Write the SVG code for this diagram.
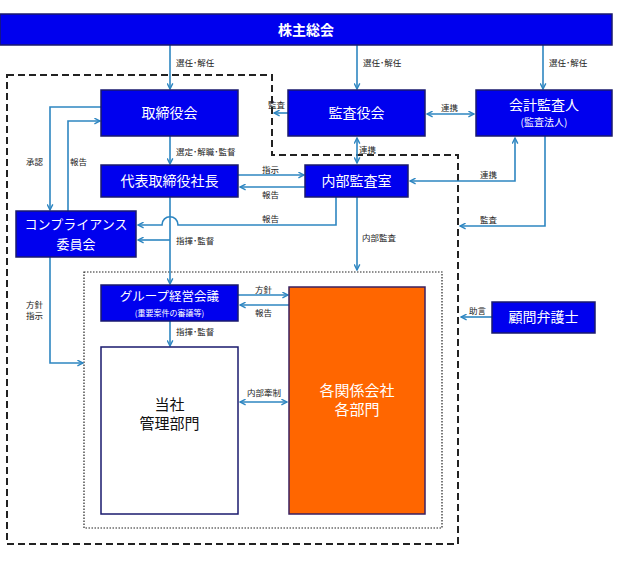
<svg xmlns="http://www.w3.org/2000/svg" width="619" height="561" viewBox="0 0 619 561">
<defs>
<style>
.bx{fill:#0000EE;stroke:#1a1a6e;stroke-width:1.5}
.bt{fill:#fff;font-family:"Noto Sans CJK JP","Noto Sans",sans-serif;font-size:14px;text-anchor:middle}
.st{fill:#fff;font-family:"Noto Sans CJK JP","Noto Sans",sans-serif;font-size:10px;text-anchor:middle}
.lb{fill:#222;font-family:"Noto Sans CJK JP","Noto Sans",sans-serif;font-size:8.5px}
.c{fill:none;stroke:#2E86C1;stroke-width:1.6}
.ce{marker-end:url(#ah)}
.cb{marker-start:url(#ah);marker-end:url(#ah)}
</style>
<marker id="ah" viewBox="0 0 10 10" refX="9" refY="5" markerWidth="7" markerHeight="7" orient="auto-start-reverse" markerUnits="userSpaceOnUse">
<path d="M1,1 L9,5 L1,9" fill="none" stroke="#2E86C1" stroke-width="2"/>
</marker>
</defs>
<rect width="619" height="561" fill="#fff"/>

<!-- boundary boxes -->
<path d="M7,75 H272 V155 H458 V544 H7 Z" fill="none" stroke="#222" stroke-width="2" stroke-dasharray="7,4"/>
<rect x="84" y="272" width="358" height="256" fill="none" stroke="#222" stroke-width="1.2" stroke-dasharray="1.5,1.5"/>

<g id="connectors">
<path class="c ce" d="M170,45 V89"/>
<path class="c ce" d="M357,45 V89"/>
<path class="c ce" d="M543,45 V89"/>
<path class="c cb" d="M427,114 H474"/>
<path class="c ce" d="M288,113 H274"/>
<path class="c cb" d="M357,138 V163"/>
<path class="c ce" d="M170,136 V164"/>
<path class="c ce" d="M238,175 H304"/>
<path class="c ce" d="M305,187 H240"/>
<path class="c cb" d="M410,181 H515 V138"/>
<path class="c ce" d="M545,136 V226 H460"/>
<path class="c ce" d="M336,197 V225 H178 C178,214 162,214 162,225 H138"/>
<path class="c ce" d="M170,197 V284"/>
<path class="c ce" d="M170,240 H138"/>
<path class="c ce" d="M101,107 H50 V210"/>
<path class="c ce" d="M68,211 V121 H100"/>
<path class="c ce" d="M50,257 V363 H83"/>
<path class="c ce" d="M357,197 V270"/>
<path class="c ce" d="M238,295 H288"/>
<path class="c ce" d="M289,305 H240"/>
<path class="c ce" d="M170,321 V346"/>
<path class="c cb" d="M240,402 H287"/>
<path class="c ce" d="M492,317 H461"/>
</g>

<g id="labels">
<text class="lb" x="176" y="66">選任･解任</text>
<text class="lb" x="363" y="66">選任･解任</text>
<text class="lb" x="549" y="66">選任･解任</text>
<text class="lb" x="441" y="111">連携</text>
<text class="lb" x="268" y="108">監査</text>
<text class="lb" x="359" y="153">連携</text>
<text class="lb" x="176" y="155">選定･解職･監督</text>
<text class="lb" x="262" y="173">指示</text>
<text class="lb" x="262" y="198">報告</text>
<text class="lb" x="480" y="178">連携</text>
<text class="lb" x="480" y="223">監査</text>
<text class="lb" x="262" y="222">報告</text>
<text class="lb" x="176" y="244">指揮･監督</text>
<text class="lb" x="26" y="165">承認</text>
<text class="lb" x="70" y="165">報告</text>
<text class="lb" x="26" y="308">方針</text>
<text class="lb" x="26" y="319">指示</text>
<text class="lb" x="362" y="241">内部監査</text>
<text class="lb" x="255" y="293">方針</text>
<text class="lb" x="255" y="316">報告</text>
<text class="lb" x="176" y="335">指揮･監督</text>
<text class="lb" x="247" y="396">内部牽制</text>
<text class="lb" x="469" y="314">助言</text>
</g>

<g id="n-kabunushi">
<rect x="0" y="14" width="612" height="31" class="bx"/>
<text class="bt" x="306" y="35" font-size="13" font-weight="bold">株主総会</text>
</g>
<g id="n-torishimariyakukai">
<rect x="101" y="90" width="137" height="46" class="bx"/>
<text class="bt" x="169.5" y="118">取締役会</text>
</g>
<g id="n-kansayakukai">
<rect x="288" y="90" width="137" height="46" class="bx"/>
<text class="bt" x="356.5" y="118">監査役会</text>
</g>
<g id="n-kaikeikansanin">
<rect x="476" y="90" width="136" height="46" class="bx"/>
<text class="bt" x="544" y="110">会計監査人</text>
<text class="st" x="544" y="126" style="font-size:10px">(監査法人)</text>
</g>
<g id="n-shacho">
<rect x="101" y="165" width="137" height="32" class="bx"/>
<text class="bt" x="169.5" y="186">代表取締役社長</text>
</g>
<g id="n-naibukansa">
<rect x="305" y="165" width="103" height="32" class="bx"/>
<text class="bt" x="356.5" y="186">内部監査室</text>
</g>
<g id="n-compliance">
<rect x="16" y="211" width="120" height="46" class="bx"/>
<text class="bt" x="76" y="229" style="font-size:13px">コンプライアンス</text>
<text class="bt" x="76" y="249" style="font-size:13px">委員会</text>
</g>
<g id="n-group">
<rect x="101" y="285" width="137" height="36" class="bx"/>
<text class="bt" x="169.5" y="301" style="font-size:12.5px">グループ経営会議</text>
<text class="st" x="169.5" y="316" style="font-size:8px">(重要案件の審議等)</text>
</g>
<g id="n-tosha">
<rect x="101" y="347" width="137" height="167" fill="#fff" stroke="#1a1a6e" stroke-width="1.5"/>
<text class="bt" x="169.5" y="410" style="fill:#111;font-size:15px">当社</text>
<text class="bt" x="169.5" y="429" style="fill:#111;font-size:15px">管理部門</text>
</g>
<g id="n-kankeigaisha">
<rect x="289" y="287" width="136" height="227" fill="#FF6600" stroke="#3a2060" stroke-width="1.5"/>
<text class="bt" x="357" y="396" style="font-size:15px">各関係会社</text>
<text class="bt" x="357" y="415" style="font-size:15px">各部門</text>
</g>
<g id="n-bengoshi">
<rect x="492" y="302" width="103" height="31" class="bx"/>
<text class="bt" x="543.5" y="322">顧問弁護士</text>
</g>
</svg>
